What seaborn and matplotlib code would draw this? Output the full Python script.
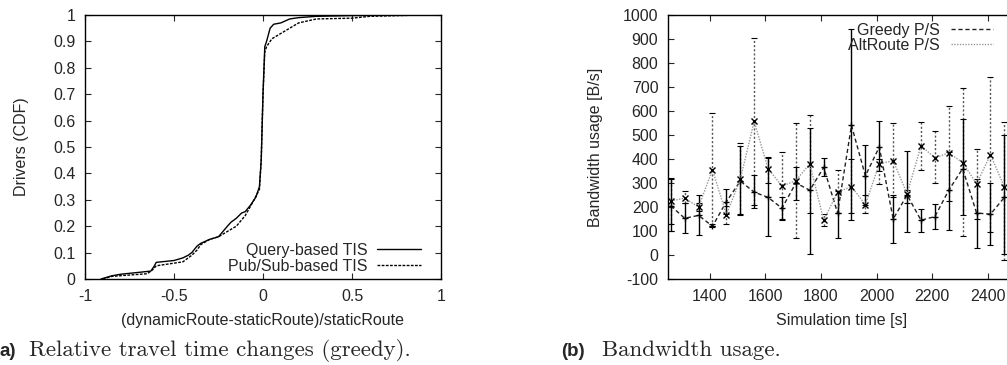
import numpy as np
import pandas as pd
import matplotlib
matplotlib.use("Agg")
import matplotlib.pyplot as plt
import seaborn as sns

# ---- data: CDF of relative travel time change
query_x = [-0.91, -0.85, -0.8, -0.7, -0.63, -0.61, -0.6, -0.5, -0.45, -0.42, -0.4, -0.37, -0.35,
           -0.3, -0.25, -0.2, -0.18, -0.15, -0.12, -0.1, -0.07, -0.04, -0.02, -0.01, 0.0, 0.01,
           0.02, 0.04, 0.06, 0.1, 0.15, 0.2, 0.3, 0.5, 0.9, 1.0]
query_y = [0.0, 0.012, 0.018, 0.025, 0.03, 0.05, 0.063, 0.07, 0.08, 0.09, 0.1, 0.125, 0.135,
           0.15, 0.16, 0.2, 0.215, 0.23, 0.25, 0.255, 0.28, 0.31, 0.35, 0.45, 0.7, 0.88,
           0.9, 0.95, 0.965, 0.97, 0.985, 0.99, 0.995, 0.998, 1.0, 1.0]
pubsub_x = [-0.9, -0.85, -0.75, -0.65, -0.62, -0.6, -0.5, -0.45, -0.4, -0.37, -0.35, -0.3,
            -0.25, -0.2, -0.15, -0.1, -0.05, -0.02, -0.01, 0.0, 0.01, 0.02, 0.05, 0.1, 0.15,
            0.2, 0.3, 0.5, 0.6, 0.9, 1.0]
pubsub_y = [0.0, 0.01, 0.015, 0.02, 0.035, 0.05, 0.06, 0.065, 0.09, 0.11, 0.13, 0.15,
            0.16, 0.18, 0.2, 0.24, 0.3, 0.34, 0.45, 0.7, 0.86, 0.88, 0.91, 0.93, 0.95,
            0.97, 0.985, 0.988, 0.995, 1.0, 1.0]

# ---- data: bandwidth usage over simulation time
sim_time = [1260, 1310, 1360, 1410, 1460, 1510, 1560, 1610, 1660, 1710, 1760, 1810, 1860,
            1910, 1960, 2010, 2060, 2110, 2160, 2210, 2260, 2310, 2360, 2410, 2460]
greedy_bw = [205, 153, 165, 120, 222, 308, 262, 240, 195, 300, 270, 365, 175,
             540, 330, 450, 150, 250, 145, 160, 270, 360, 175, 170, 240]
greedy_lo = [100, 90, 85, 115, 170, 165, 195, 80, 145, 230, 5, 330, 70,
             145, 210, 350, 50, 95, 97, 108, 105, 165, 28, 40, 5]
greedy_hi = [318, 215, 250, 130, 275, 453, 335, 405, 240, 366, 531, 405, 265,
             940, 458, 560, 250, 433, 192, 214, 430, 566, 318, 300, 500]
alt_bw = [225, 237, 200, 355, 168, 315, 557, 360, 287, 310, 380, 145, 262,
          285, 210, 380, 393, 255, 455, 405, 425, 385, 297, 418, 283]
alt_lo = [130, 215, 185, 120, 130, 170, 210, 300, 150, 70, 175, 120, 175,
          175, 175, 295, 240, 215, 355, 300, 225, 80, 150, 95, -20]
alt_hi = [320, 265, 215, 590, 205, 465, 905, 410, 430, 550, 585, 170, 355,
          400, 250, 400, 552, 270, 555, 515, 620, 695, 440, 740, 555]

sns.set_style("ticks")
plt.rcParams["font.family"] = ["Liberation Sans", "DejaVu Sans"]
plt.rcParams["axes.unicode_minus"] = False
plt.rcParams["xtick.direction"] = "in"
plt.rcParams["ytick.direction"] = "in"
plt.rcParams["xtick.top"] = True
plt.rcParams["ytick.right"] = True

FS = 11.5

fig = plt.figure(figsize=(10.07, 3.65), dpi=100)
ax1 = fig.add_axes([85 / 1007, 1 - 279 / 365, 356 / 1007, 264 / 365])
ax2 = fig.add_axes([668 / 1007, 1 - 279 / 365, 347.5 / 1007, 264 / 365])

# ---- left: CDF
cdf = pd.concat([
    pd.DataFrame({"x": query_x, "y": query_y, "s": "Query-based TIS"}),
    pd.DataFrame({"x": pubsub_x, "y": pubsub_y, "s": "Pub/Sub-based TIS"}),
])
sns.lineplot(data=cdf, x="x", y="y", hue="s", style="s", sort=False, estimator=None,
             palette=["black", "black"], dashes=[(None, None), (2, 1)], linewidth=1.0, ax=ax1)
ax1.set_xlim(-1, 1)
ax1.set_ylim(0, 1)
ax1.set_xticks([-1, -0.5, 0, 0.5, 1])
ax1.set_xticklabels(["-1", "-0.5", "0", "0.5", "1"])
ax1.set_yticks(np.arange(0, 1.01, 0.1))
ax1.set_yticklabels(["0", "0.1", "0.2", "0.3", "0.4", "0.5", "0.6", "0.7", "0.8", "0.9", "1"])
ax1.set_xlabel("(dynamicRoute-staticRoute)/staticRoute", fontsize=FS, labelpad=6.5)
ax1.set_ylabel("Drivers (CDF)", fontsize=FS, labelpad=17)
ax1.legend(loc="lower right", bbox_to_anchor=(0.985, -0.035), frameon=False, markerfirst=False,
           fontsize=FS, handlelength=2.75, handletextpad=0.6, labelspacing=0.05)

# ---- right: bandwidth
bw = pd.concat([
    pd.DataFrame({"t": sim_time, "bw": greedy_bw, "s": "Greedy P/S"}),
    pd.DataFrame({"t": sim_time, "bw": alt_bw, "s": "AltRoute P/S"}),
])
ax2.errorbar(sim_time, greedy_bw,
             yerr=[np.subtract(greedy_bw, greedy_lo), np.subtract(greedy_hi, greedy_bw)],
             fmt="none", ecolor="black", elinewidth=1.0, capsize=2.5, capthick=0.8, zorder=3)
eb = ax2.errorbar(sim_time, alt_bw,
                  yerr=[np.subtract(alt_bw, alt_lo), np.subtract(alt_hi, alt_bw)],
                  fmt="none", ecolor="#555555", elinewidth=1.0, capsize=2.5, capthick=0.8, zorder=2)
eb[2][0].set_linestyle((0, (1.5, 1.5)))
sns.lineplot(data=bw, x="t", y="bw", hue="s", style="s", estimator=None,
             palette=["#222222", "#999999"], dashes=[(3, 2), (1, 1)],
             markers=["+", "x"], markersize=5, markeredgewidth=1.0,
             linewidth=1.0, ax=ax2, zorder=4)
for ln in ax2.get_lines():
    ln.set_markeredgecolor("black")
ax2.set_xlim(1250, 2500)
ax2.set_ylim(-100, 1000)
ax2.set_xticks([1400, 1600, 1800, 2000, 2200, 2400])
ax2.set_yticks(np.arange(-100, 1001, 100))
ax2.set_xlabel("Simulation time [s]", fontsize=FS, labelpad=6.5)
ax2.set_ylabel("Bandwidth usage [B/s]", fontsize=FS, labelpad=14)
handles, labels = ax2.get_legend_handles_labels()
leg = ax2.legend(handles, labels, loc="upper right", bbox_to_anchor=(0.976, 1.025), frameon=False,
                 markerfirst=False, fontsize=FS, handlelength=2.6, handletextpad=0.7,
                 labelspacing=0.0)
for h in leg.legend_handles:
    h.set_marker("")

for ax in (ax1, ax2):
    ax.tick_params(labelsize=FS, length=4, width=0.8, pad=7)
    for sp in ax.spines.values():
        sp.set_visible(True)
        sp.set_linewidth(1.0)
        sp.set_color("black")

# ---- captions (the left one is clipped at the page edge in the source)
fig.text(0.0, 1 - 356 / 365, "a)", fontsize=13.5, fontweight="bold", va="baseline", ha="left")
fig.text(29 / 1007, 1 - 356 / 365, "Relative travel time changes (greedy).", fontsize=16.5,
         family="cmr10", va="baseline", ha="left")
fig.text(561 / 1007, 1 - 356 / 365, "(b)", fontsize=13.5, fontweight="bold", va="baseline", ha="left")
fig.text(602 / 1007, 1 - 356 / 365, "Bandwidth usage.", fontsize=16.5,
         family="cmr10", va="baseline", ha="left")

fig.savefig("out.png", dpi=100)
